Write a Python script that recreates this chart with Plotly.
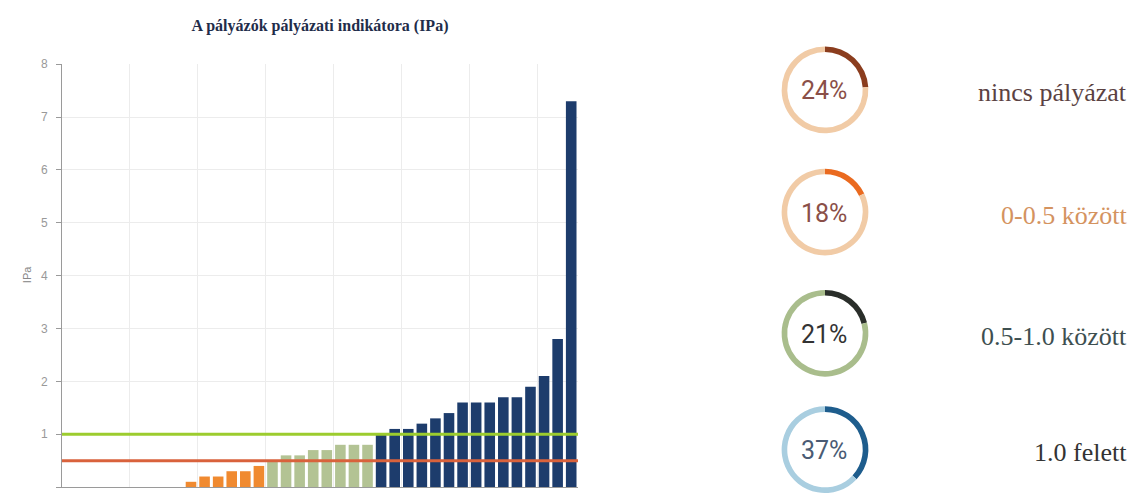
import plotly.graph_objects as go

W, H = 1138, 493

# ---------------- data ----------------
ipa_none = [0, 0, 0, 0, 0, 0, 0, 0, 0]
ipa_low = [0.1, 0.2, 0.2, 0.3, 0.3, 0.4]
ipa_mid = [0.5, 0.6, 0.6, 0.7, 0.7, 0.8, 0.8, 0.8]
ipa_high = [1.0, 1.1, 1.1, 1.2, 1.3, 1.4, 1.6, 1.6, 1.6, 1.7, 1.7, 1.9, 2.1, 2.8, 7.3]
thresholds = [1.0, 0.5]
threshold_colors = ["#9ccc2e", "#d9623c"]

group_labels = ["nincs pályázat", "0-0.5 között", "0.5-1.0 között", "1.0 felett"]
group_percents = [24, 18, 21, 37]

title_text = "A pályázók pályázati indikátora (IPa)"
y_title = "IPa"
y_ticks = [0, 1, 2, 3, 4, 5, 6, 7, 8]

# ---------------- styles ----------------
bar_colors = ["#f08a30", "#f08a30", "#b3c394", "#1d3c6c"]
ring_dark = ["#8b3d1e", "#ea6a1f", "#2a2e2a", "#1e5d8d"]
ring_light = ["#f1cba6", "#f1cba6", "#a9bd8c", "#a9cee0"]
pct_colors = ["#8a4f48", "#8a4f48", "#333333", "#4a5b74"]
label_colors = ["#5b4242", "#d4935f", "#3e4f50", "#333333"]
donut_cy = [84, 208, 331, 449]   # pixel centres
donut_cx = 825
donut_r = 44

groups = [ipa_none, ipa_low, ipa_mid, ipa_high]

fig = go.Figure()

x0 = 0
for vals, col in zip(groups, bar_colors):
    xs = list(range(x0, x0 + len(vals)))
    fig.add_trace(go.Bar(x=xs, y=vals, marker=dict(color=col, line=dict(width=0)),
                         showlegend=False, xaxis="x", yaxis="y"))
    x0 += len(vals)
n_bars = x0

# threshold lines on top of bars
for t, c in zip(thresholds, threshold_colors):
    fig.add_trace(go.Scatter(x=[-0.5, n_bars - 0.5], y=[t, t], mode="lines",
                             line=dict(color=c, width=3), showlegend=False,
                             hoverinfo="skip", cliponaxis=False))

# donuts
for i, (p, cy) in enumerate(zip(group_percents, donut_cy)):
    dom_x = [(donut_cx - donut_r) / W, (donut_cx + donut_r) / W]
    dom_y = [max(0.0, 1 - (cy + donut_r) / H), min(1.0, 1 - (cy - donut_r) / H)]
    fig.add_trace(go.Pie(values=[p, 100 - p], hole=0.87, sort=False,
                         direction="clockwise", rotation=0,
                         marker=dict(colors=[ring_dark[i], ring_light[i]], line=dict(width=0)),
                         textinfo="none", hoverinfo="skip", showlegend=False,
                         domain=dict(x=dom_x, y=dom_y)))
    fig.add_annotation(x=(donut_cx - 1) / W, y=1 - (cy + 1) / H, xref="paper", yref="paper",
                       text=f"{p}%", showarrow=False, xanchor="center", yanchor="middle",
                       font=dict(family="Roboto, Liberation Sans, sans-serif", size=25,
                                 color=pct_colors[i]))
    fig.add_annotation(x=1129 / W, y=1 - (cy + 3) / H, xref="paper", yref="paper",
                       text=group_labels[i], showarrow=False, xanchor="right", yanchor="middle",
                       font=dict(family="Liberation Serif, DejaVu Serif, serif", size=26,
                                 color=label_colors[i]))

# y-axis title
fig.add_annotation(x=27 / W, y=1 - 272 / H, xref="paper", yref="paper", text=y_title,
                   textangle=-90, showarrow=False, xanchor="center", yanchor="middle",
                   font=dict(family="Liberation Sans, Arial, sans-serif", size=11, color="#888888"))

fig.update_layout(
    width=W, height=H,
    margin=dict(l=0, r=0, t=0, b=0, pad=0),
    paper_bgcolor="white", plot_bgcolor="white",
    bargap=0.22,
    title=dict(text=f"<b>{title_text}</b>", x=320 / W, xanchor="center",
               y=1 - 25 / H, yanchor="middle",
               font=dict(family="Liberation Serif, DejaVu Serif, serif", size=16, color="#1f2d4a")),
    xaxis=dict(domain=[62 / W, 578 / W], range=[-0.5, n_bars - 0.5], showticklabels=False,
               tickmode="linear", tick0=4.5, dtick=5, ticks="", showgrid=True,
               gridcolor="#ececec", gridwidth=1, showline=True, linecolor="#9a9a9a",
               linewidth=1, zeroline=False, fixedrange=True),
    yaxis=dict(domain=[1 - 487 / H, 1 - 58 / H], range=[0, 8], tickvals=y_ticks,
               ticks="outside", ticklen=5, tickcolor="#9a9a9a", showline=True,
               linecolor="#9a9a9a", linewidth=1, gridcolor="#ececec", zeroline=False,
               tickfont=dict(family="Liberation Sans, Arial, sans-serif", size=12, color="#999999"),
               ticklabelstandoff=6, fixedrange=True),
)

fig.write_html("out.html", config={"displayModeBar": False},
               post_script="document.body.style.margin='0';document.body.style.overflow='hidden';")
